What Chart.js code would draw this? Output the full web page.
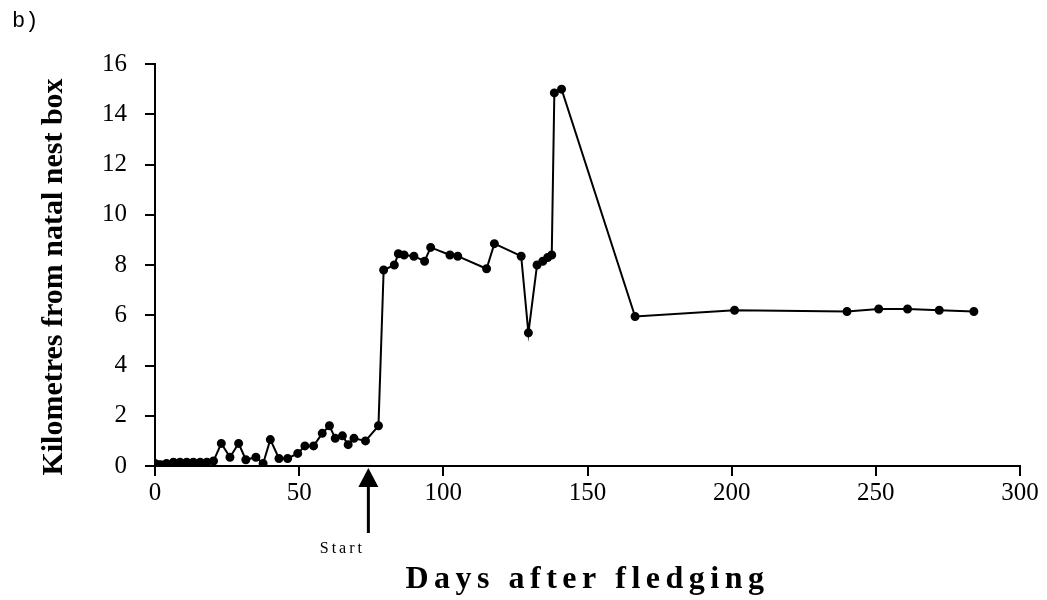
<!DOCTYPE html>
<html><head><meta charset="utf-8">
<script src="https://cdn.jsdelivr.net/npm/chart.js@4.4.0/dist/chart.umd.min.js"></script>
<style>html,body{margin:0;padding:0;background:#fff}#wrap{width:1047px;height:600px;position:relative}</style>
</head><body><div id="wrap"><canvas id="c"></canvas></div>
<script>
const days = [0, 1, 2, 4, 6.4, 8.7, 11, 13.3, 15.7, 18, 20.3,
  23, 26, 29, 31.5, 35, 37.5, 40, 43, 46, 49.5, 52, 55, 58, 60.5, 62.5, 65, 67, 69, 73, 77.5,
  79.3, 83, 84.4, 86.4, 89.8, 93.5, 95.6, 102.3, 105, 115, 117.7, 127, 129.5, 132.5, 134.5, 136.2, 137.6,
  138.5, 141, 166.5, 201, 240, 251, 261, 272, 284];
const km = [0.1, 0.05, 0.05, 0.1, 0.15, 0.15, 0.15, 0.15, 0.15, 0.15, 0.2,
  0.9, 0.35, 0.9, 0.25, 0.35, 0.1, 1.05, 0.3, 0.3, 0.5, 0.8, 0.8, 1.3, 1.6, 1.1, 1.2, 0.85, 1.1, 1.0, 1.6,
  7.8, 8.0, 8.45, 8.4, 8.35, 8.15, 8.7, 8.4, 8.35, 7.85, 8.85, 8.35, 5.3, 8.0, 8.15, 8.3, 8.4,
  14.85, 15.0, 5.95, 6.2, 6.15, 6.25, 6.25, 6.2, 6.15];
const xTicks = [0, 50, 100, 150, 200, 250, 300];
const yTicks = [0, 2, 4, 6, 8, 10, 12, 14, 16];
const startDay = 74;
const startLabel = 'Start';
const panelLabel = 'b)';
const xTitle = 'Days after fledging';
const yTitle = 'Kilometres from natal nest box';

function patchTitle(s, spacing, dy) {
  if (!s || s._patchedTitle) return;
  const orig = s.drawTitle;
  s.drawTitle = function () {
    const c = this.ctx;
    c.save();
    c.letterSpacing = spacing;
    c.translate(0, dy);
    orig.call(this);
    c.restore();
    c.letterSpacing = '0px';
  };
  s._patchedTitle = true;
}

const extraPlugin = {
  id: 'extra',
  afterUpdate(chart) {
    patchTitle(chart.scales.x, '5.5px', 0);
    patchTitle(chart.scales.y, '0px', 12);
  },
  afterDraw(chart) {
    const ctx = chart.ctx;
    const xs = chart.scales.x;
    const px = xs.getPixelForValue(startDay);
    const base = xs.top;
    ctx.save();
    ctx.fillStyle = '#000';
    ctx.strokeStyle = '#000';
    ctx.beginPath();
    ctx.moveTo(px, base + 2);
    ctx.lineTo(px - 10, base + 21);
    ctx.lineTo(px + 10, base + 21);
    ctx.closePath();
    ctx.fill();
    ctx.lineWidth = 3;
    ctx.beginPath();
    ctx.moveTo(px, base + 20);
    ctx.lineTo(px, base + 67);
    ctx.stroke();
    ctx.letterSpacing = '3px';
    ctx.font = '16px "Liberation Serif"';
    ctx.textAlign = 'center';
    ctx.textBaseline = 'middle';
    ctx.fillText(startLabel, px - 26, base + 83);
    ctx.restore();
    ctx.letterSpacing = '0px';
  }
};

new Chart(document.getElementById('c'), {
  type: 'scatter',
  data: {
    datasets: [{
      data: days.map((d, i) => ({x: d, y: km[i]})),
      showLine: true,
      borderColor: '#000',
      borderWidth: 2,
      pointRadius: 3.5,
      pointBackgroundColor: '#000',
      pointBorderColor: '#000',
      tension: 0
    }]
  },
  options: {
    responsive: true,
    maintainAspectRatio: false,
    animation: false,
    layout: {padding: {left: 12, right: 27, top: 0, bottom: 0}},
    plugins: {
      legend: {display: false},
      tooltip: {enabled: false},
      title: {
        display: true, text: panelLabel, align: 'start', color: '#000',
        font: {family: '"Liberation Mono"', size: 22, weight: 'normal'},
        padding: {top: 8, bottom: 29.6}
      }
    },
    scales: {
      x: {
        type: 'linear', min: 0, max: 300,
        afterBuildTicks: s => { s.ticks = xTicks.map(v => ({value: v})); },
        grid: {drawOnChartArea: false, drawTicks: true, tickLength: 10, color: '#000', lineWidth: 2},
        border: {display: true, color: '#000', width: 2},
        ticks: {color: '#000', font: {family: '"Liberation Serif"', size: 25}, padding: 2, maxRotation: 0},
        title: {display: true, text: xTitle, color: '#000',
          font: {family: '"Liberation Serif"', size: 32, weight: 'bold'}, padding: {top: 0, bottom: 1}},
        afterFit: s => { s.height = 134; }
      },
      y: {
        min: 0, max: 16,
        afterBuildTicks: s => { s.ticks = yTicks.map(v => ({value: v})); },
        grid: {drawOnChartArea: false, drawTicks: true, tickLength: 10, color: '#000', lineWidth: 2},
        border: {display: true, color: '#000', width: 2},
        ticks: {color: '#000', font: {family: '"Liberation Serif"', size: 25}, padding: 18},
        title: {display: true, text: yTitle, color: '#000',
          font: {family: '"Liberation Serif"', size: 30, weight: 'bold'}, padding: {top: 24, bottom: 0}},
        afterFit: s => { s.width = 143; }
      }
    }
  },
  plugins: [extraPlugin]
});
</script>
</body></html>
